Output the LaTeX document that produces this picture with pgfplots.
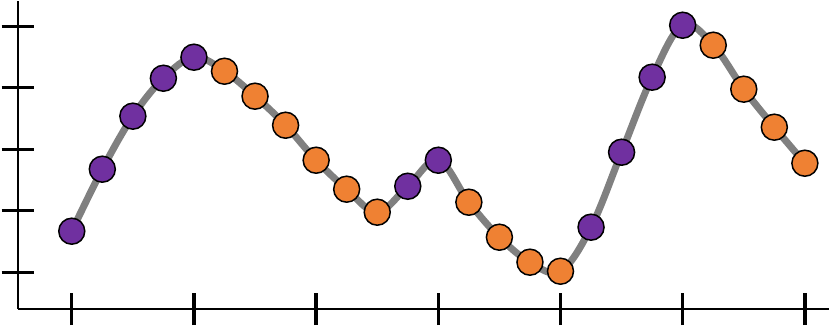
\documentclass[border=0pt]{standalone}
\usepackage{pgfplots}
\pgfplotsset{compat=1.18}
\usepackage{pgfplotstable}
\definecolor{riseP}{HTML}{7030A0}
\definecolor{fallO}{HTML}{EF8133}
\definecolor{curveG}{HTML}{808080}

% c = r (value went up) or f (value went down)
\pgfplotstableread{
x y c
0 1.667 r
1 2.675 r
2 3.537 r
3 4.154 r
4 4.496 r
5 4.268 f
6 3.862 f
7 3.390 f
8 2.821 f
9 2.350 f
10 1.976 f
11 2.398 r
12 2.821 r
13 2.138 f
14 1.569 f
15 1.163 f
16 1.016 f
17 1.732 r
18 2.951 r
19 4.171 r
20 5.016 r
21 4.691 f
22 3.976 f
23 3.358 f
24 2.772 f
}\series

\begin{document}
\begin{tikzpicture}
\begin{axis}[
  scale only axis, width=405.5pt, height=154pt,
  xmin=-1.77, xmax=24.79, ymin=0.40, ymax=5.41,
  axis x line=bottom, axis y line=left,
  axis line style={-, line width=1pt, black},
  xtick={0,4,...,24}, ytick={1,...,5},
  xticklabels={}, yticklabels={},
  xticklabel style={overlay}, yticklabel style={overlay},
  tick align=center, major tick length=16pt,
  tick style={line width=1.7pt, black},
  clip=false,
]
\addplot[curveG, line width=3.5pt, smooth, tension=0.6] table[x=x, y=y] {\series};
\addplot[
  scatter, only marks, scatter src=explicit symbolic,
  scatter/classes={
    r={mark=*, draw=black, fill=riseP},
    f={mark=*, draw=black, fill=fallO}},
  mark size=6.5pt, mark options={line width=0.75pt},
] table[x=x, y=y, meta=c] {\series};
\end{axis}
\end{tikzpicture}
\end{document}
